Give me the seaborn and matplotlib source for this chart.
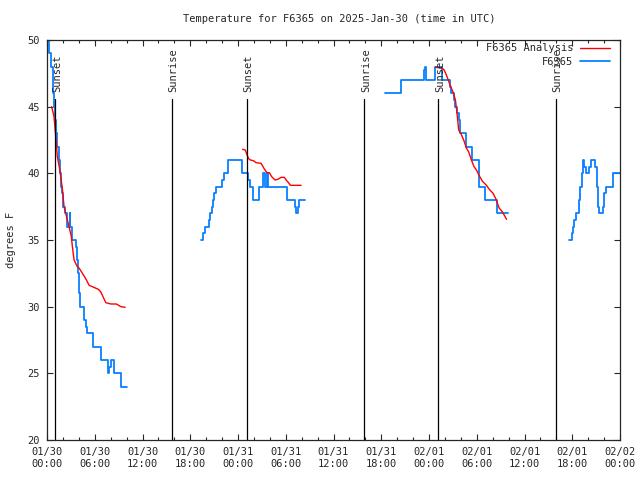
import pandas as pd
import matplotlib
matplotlib.use('Agg')
import matplotlib.pyplot as plt
from matplotlib.lines import Line2D
from matplotlib.ticker import MultipleLocator
import seaborn as sns

sns.set_style('ticks')
plt.rcParams['font.family'] = ['DejaVu Sans Mono', 'DejaVu Sans']
plt.rcParams['font.size'] = 7.5

# hours since 2025-01-30 00:00 UTC
# F6365 observations, four pieces
obs1_hours = [0.0, 0.25, 0.55, 0.75, 0.85, 0.95, 1.1, 1.3, 1.5, 1.6, 1.75, 1.85, 2.0, 2.2, 2.5, 2.85, 2.95,
              3.2, 3.65, 3.8, 3.9, 4.05, 4.2, 4.7, 4.95, 5.05, 5.75, 6.83, 7.72, 7.85, 8.05, 8.45, 9.3, 10.1]
obs1_temp = [50, 49, 48, 46, 45, 44, 43, 42, 41, 40, 39, 38.5, 37.5, 37, 36, 37, 36,
             35, 34.5, 33.5, 32.5, 31, 30, 29, 28.5, 28, 27, 26, 25, 25.5, 26, 25, 24, 24]
obs2_hours = [19.4, 19.65, 19.85, 20.3, 20.5, 20.7, 20.8, 21.0, 21.2, 21.95, 22.2, 22.7, 24.55, 25.3, 25.5,
              25.85, 26.6, 27.2, 27.4, 27.65, 27.78, 30.2, 31.15, 31.3, 31.6, 31.72, 32.44]
obs2_temp = [35, 35.5, 36, 36.5, 37, 37.5, 38, 38.5, 39, 39.5, 40, 41, 40, 39.5, 39,
             38, 39, 40, 39, 40, 39, 38, 37.5, 37, 37.5, 38, 38]
obs3_hours = [42.42, 44.43, 47.37, 47.49, 47.67, 48.8, 49.68, 50.6, 50.82, 51.1, 51.32, 51.52, 51.73, 51.95,
              52.7, 53.46, 54.25, 55.0, 56.5, 56.6, 57.87]
obs3_temp = [46, 47, 47.75, 48, 47, 48, 47, 46.5, 46, 45.5, 45, 44.5, 44, 43,
             42, 41, 39, 38, 37.5, 37, 37]
obs4_hours = [65.62, 66.0, 66.1, 66.25, 66.45, 66.85, 66.95, 67.2, 67.4, 67.5, 67.7, 68.15, 68.3, 68.85,
              69.07, 69.27, 69.4, 69.82, 69.99, 70.2, 71.08, 72.0]
obs4_temp = [35, 35.5, 36, 36.5, 37, 38, 39, 40, 41, 40.5, 40, 40.5, 41, 40.5,
             39, 37.5, 37, 37.5, 38.5, 39, 40, 40]

# F6365 Analysis, three pieces
ana1_hours = [0.59, 0.88, 1.1, 1.3, 1.6, 1.93, 2.14, 2.56, 2.77, 3.06, 3.19, 3.4, 3.81, 4.03, 4.87, 5.29,
              5.7, 6.46, 6.76, 7.39, 8.02, 8.72, 9.28, 9.82]
ana1_temp = [45, 44.25, 42.75, 41.25, 40.3, 38.85, 37.5, 36.5, 36, 35.25, 34.5, 33.5, 33, 32.9, 32.1, 31.6,
             31.5, 31.3, 31.1, 30.3, 30.2, 30.2, 30.0, 29.95]
ana2_hours = [24.58, 24.92, 25.09, 25.34, 25.55, 25.93, 26.27, 26.9, 27.19, 27.44, 27.66, 27.94, 28.23,
              28.66, 28.99, 29.42, 29.83, 30.05, 30.34, 30.59, 31.93]
ana2_temp = [41.8, 41.75, 41.45, 41.1, 41.0, 40.95, 40.8, 40.75, 40.45, 40.2, 40.05, 40.05, 39.75,
             39.5, 39.55, 39.7, 39.7, 39.5, 39.3, 39.1, 39.1]
ana3_hours = [48.8, 49.56, 49.85, 50.1, 50.39, 50.69, 51.02, 51.32, 51.52, 51.73, 52.07, 52.36, 52.7,
              52.99, 53.33, 53.66, 53.96, 54.38, 54.72, 55.22, 55.64, 56.05, 56.39, 56.81, 57.24, 57.74]
ana3_temp = [47.95, 47.9, 47.8, 47.5, 47.05, 46.55, 46.1, 45.5, 44.5, 43.25, 42.9, 42.5, 41.9,
             41.6, 41.0, 40.5, 40.25, 39.75, 39.4, 39.1, 38.75, 38.5, 38.1, 37.4, 37.1, 36.55]

sun_hours = [1.0, 15.67, 25.09, 39.82, 49.16, 63.9]
sun_labels = ['Sunset', 'Sunrise', 'Sunset', 'Sunrise', 'Sunset', 'Sunrise']

tick_labels = ['01/30\n00:00', '01/30\n06:00', '01/30\n12:00', '01/30\n18:00',
               '01/31\n00:00', '01/31\n06:00', '01/31\n12:00', '01/31\n18:00',
               '02/01\n00:00', '02/01\n06:00', '02/01\n12:00', '02/01\n18:00', '02/02\n00:00']

def pieces(parts):
    frames = []
    for i, (h, t) in enumerate(parts):
        frames.append(pd.DataFrame({'hour': h, 'temp': t, 'seg': i}))
    return pd.concat(frames, ignore_index=True)

obs = pieces([(obs1_hours, obs1_temp), (obs2_hours, obs2_temp),
              (obs3_hours, obs3_temp), (obs4_hours, obs4_temp)])
ana = pieces([(ana1_hours, ana1_temp), (ana2_hours, ana2_temp), (ana3_hours, ana3_temp)])

blue = '#0a80ff'
red = '#ff0000'

fig = plt.figure(figsize=(6.4, 4.8), dpi=100)
ax = fig.add_axes([47 / 640, 40 / 480, 573 / 640, 400 / 480])

sns.lineplot(data=obs, x='hour', y='temp', units='seg', estimator=None, color=blue,
             lw=1.3, drawstyle='steps-post', ax=ax)
sns.lineplot(data=ana, x='hour', y='temp', units='seg', estimator=None, color=red,
             lw=1.0, ax=ax)

# sunrise / sunset markers
for h, lab in zip(sun_hours, sun_labels):
    ax.plot([h, h], [20, 45.6], color='black', lw=0.9)
    ax.text(h + 0.25, 46.1, lab, rotation=90, ha='center', va='bottom', fontsize=7.5)

ax.set_xlim(0, 72)
ax.set_ylim(20, 50)
ax.set_xticks(range(0, 73, 6))
ax.set_xticklabels(tick_labels)
ax.xaxis.set_minor_locator(MultipleLocator(2))
ax.set_yticks(range(20, 51, 5))
ax.tick_params(which='both', direction='in', top=True, right=True, labelsize=7.5, width=0.8)
ax.tick_params(which='major', length=4.5, pad=5)
ax.tick_params(which='minor', length=2.2)
for s in ax.spines.values():
    s.set_linewidth(0.9)
ax.set_xlabel('')
ax.set_ylabel('degrees F', fontsize=7.5, labelpad=8)

handles = [Line2D([], [], color=red, lw=1.0), Line2D([], [], color=blue, lw=1.3)]
ax.legend(handles, ['F6365 Analysis', 'F6365'], loc='upper right', frameon=False,
          markerfirst=False, handlelength=2.9, handletextpad=0.6, labelspacing=0.35,
          borderaxespad=0.1, fontsize=7.5, bbox_to_anchor=(1 - 5 / 573, 1 + 2 / 400))

fig.text(339 / 640, 1 - 19 / 480, 'Temperature for F6365 on 2025-Jan-30 (time in UTC)',
         ha='center', va='center', fontsize=7.5)

fig.savefig('out.png', dpi=100)
